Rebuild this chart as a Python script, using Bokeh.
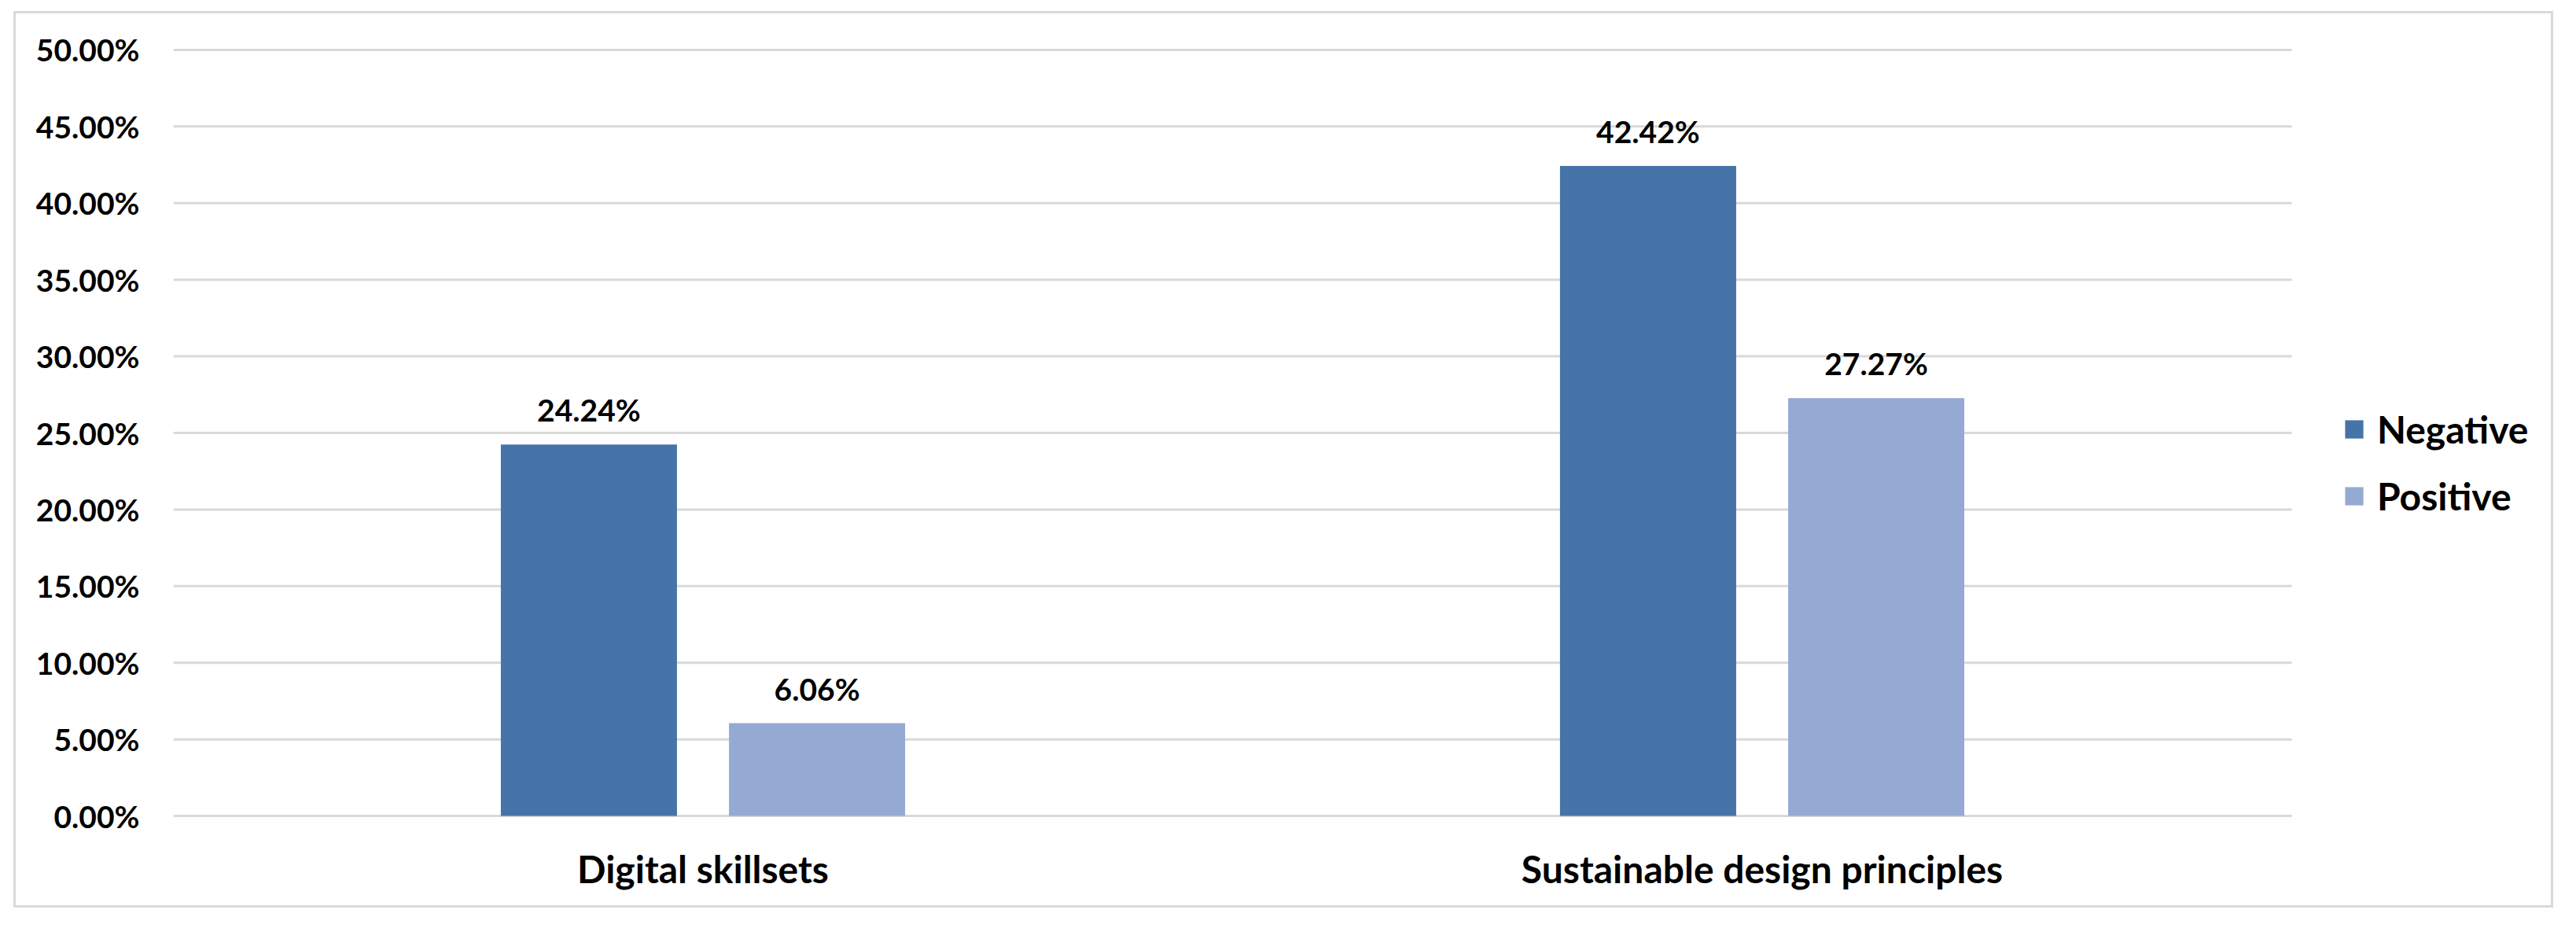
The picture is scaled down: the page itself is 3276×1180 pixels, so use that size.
from bokeh.plotting import figure
from bokeh.models import (ColumnDataSource, Range1d, FixedTicker,
                          NumeralTickFormatter, LabelSet, Legend, LegendItem)
from bokeh.transform import dodge
from bokeh.core.properties import value
from bokeh.embed import file_html
from bokeh.resources import INLINE

# ---- data ----
categories = ["Digital skillsets", "Sustainable design principles"]
negative = [0.2424, 0.4242]
positive = [0.0606, 0.2727]
series_names = ["Negative", "Positive"]
y_ticks = [0.0, 0.05, 0.10, 0.15, 0.20, 0.25, 0.30, 0.35, 0.40, 0.45, 0.50]

NEG_COLOR = "#4673A8"
POS_COLOR = "#95AAD2"
GRID_COLOR = "#d9d9d9"
FONT = "Lato"

cat_pos = [i + 0.5 for i in range(len(categories))]
src = ColumnDataSource(dict(
    x=cat_pos,
    neg=negative,
    pos=positive,
    neg_lbl=[f"{v*100:.2f}%" for v in negative],
    pos_lbl=[f"{v*100:.2f}%" for v in positive],
))
grid_src = ColumnDataSource(dict(
    x0=[0.0] * len(y_ticks),
    x1=[float(len(categories))] * len(y_ticks),
    y=y_ticks,
))

W, H = 3230, 1140
LEFT, TOP, BOTTOM = 200, 42, 116
frame_w = W - LEFT
cat_px = 1347.0
p = figure(x_range=Range1d(0, frame_w / cat_px),
           y_range=Range1d(-0.002, 0.502),
           width=W, height=H, output_backend="svg", toolbar_location=None,
           min_border_left=LEFT, min_border_right=0,
           min_border_top=TOP, min_border_bottom=BOTTOM)
p.margin = (14, 0, 0, 17)
p.styles = {"border": "3px solid #d9d9d9"}
p.outline_line_color = None
p.background_fill_color = "white"
p.border_fill_color = "white"

# horizontal gridlines (value axis)
p.segment(x0="x0", x1="x1", y0="y", y1="y", source=grid_src,
          line_color=GRID_COLOR, line_width=3)

BAR_W = 0.1663
OFF = 0.1077
r_neg = p.vbar(x=dodge("x", -OFF), top="neg", width=BAR_W,
               source=src, fill_color=NEG_COLOR, line_color=None)
r_pos = p.vbar(x=dodge("x", OFF), top="pos", width=BAR_W,
               source=src, fill_color=POS_COLOR, line_color=None)

for ycol, lcol, off in [("neg", "neg_lbl", -OFF), ("pos", "pos_lbl", OFF)]:
    lbl = LabelSet(x=dodge("x", off), y=ycol, text=lcol,
                   source=src, y_offset=29, text_align="center",
                   text_baseline="alphabetic", text_font=value(FONT),
                   text_font_size=value("39px"), text_font_style=value("bold"),
                   text_color=value("#000000"))
    p.add_layout(lbl)

# y axis
p.yaxis.ticker = FixedTicker(ticks=y_ticks)
p.yaxis.formatter = NumeralTickFormatter(format="0.00%")
p.yaxis.axis_line_color = None
p.yaxis.major_tick_line_color = None
p.yaxis.minor_tick_line_color = None
p.yaxis.major_tick_out = 0
p.yaxis.major_label_standoff = 43
p.yaxis.major_label_text_font = FONT
p.yaxis.major_label_text_font_size = "39px"
p.yaxis.major_label_text_font_style = "bold"
p.yaxis.major_label_text_color = "#000000"

# category axis
p.xaxis.ticker = FixedTicker(ticks=cat_pos)
p.xaxis.major_label_overrides = {x: c for x, c in zip(cat_pos, categories)}
p.xaxis.axis_line_color = None
p.xaxis.major_tick_line_color = None
p.xaxis.minor_tick_line_color = None
p.xaxis.major_tick_out = 0
p.xaxis.major_label_standoff = 34
p.xaxis.major_label_text_font = FONT
p.xaxis.major_label_text_font_size = "48px"
p.xaxis.major_label_text_font_style = "bold"
p.xaxis.major_label_text_color = "#000000"

p.xgrid.grid_line_color = None
p.ygrid.grid_line_color = None

legend = Legend(items=[LegendItem(label=series_names[0], renderers=[r_neg]),
                       LegendItem(label=series_names[1], renderers=[r_pos])],
                location=(2759, 382), orientation="vertical",
                glyph_width=29, glyph_height=29, label_standoff=15,
                label_text_font=FONT, label_text_font_size="48px",
                label_text_font_style="bold", label_text_color="#000000",
                spacing=28, padding=0, margin=0,
                border_line_color=None, background_fill_alpha=0)
p.add_layout(legend)

open("out.html", "w").write(file_html(p, INLINE))
